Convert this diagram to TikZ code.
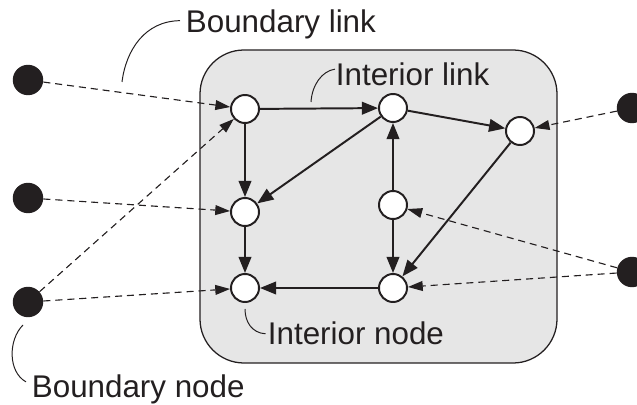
\documentclass[tikz,border=0pt]{standalone}
\usepackage{fontspec}
\setmainfont{Liberation Sans}
\usetikzlibrary{arrows.meta}
\definecolor{ink}{HTML}{231F20}
\definecolor{pane}{HTML}{E6E6E6}

\begin{document}
\begin{tikzpicture}[x=0.025cm, y=-0.025cm,
		inner/.style={circle, draw=ink, fill=white, line width=1.4pt, minimum size=0.7cm, inner sep=0pt},
		outer/.style={circle, fill=ink, minimum size=0.76cm, inner sep=0pt},
		link/.style={draw=ink, line width=1.4pt, -{Triangle[length=11.5pt,width=9pt]}},
		blink/.style={draw=ink, line width=0.8pt, dash pattern=on 5pt off 3.5pt, -{Triangle[length=10.5pt,width=7pt]}},
		lead/.style={draw=ink, line width=0.7pt},
		lbl/.style={anchor=base west, inner xsep=4pt, inner ysep=0pt, text=ink, font=\fontsize{22.3}{26}\selectfont}]
			\useasboundingbox (0,0) rectangle (637,405);
			\draw [draw=ink, fill=pane, line width=0.9pt, rounded corners=1.1cm] (200,50) rectangle (557,363);
			\node [inner] (a) at (245,109) {};
			\node [inner] (b) at (245,212) {};
			\node [inner] (c) at (245,288) {};
			\node [inner] (d) at (393,108) {};
			\node [inner] (e) at (520,131) {};
			\node [inner] (f) at (393,205) {};
			\node [inner] (g) at (393,288) {};
			\node [outer] (l1) at (28,80) {};
			\node [outer] (l2) at (28,198) {};
			\node [outer] (l3) at (28,302) {};
			\node [outer] (r1) at (632,108) {};
			\node [outer] (r2) at (632,272) {};
			\draw [link] (a) -- (d);
			\draw [link] (a) -- (b);
			\draw [link] (d) -- (b);
			\draw [link] (d) -- (e);
			\draw [link] (f) -- (d);
			\draw [link] (f) -- (g);
			\draw [link] (e) -- (g);
			\draw [link] (g) -- (c);
			\draw [link] (b) -- (c);
			\draw [blink] (l1) -- (a);
			\draw [blink] (l2) -- (b);
			\draw [blink] (l3) -- (c);
			\draw [blink] (l3) -- (a);
			\draw [blink] (r1) -- (e);
			\draw [blink] (r2) -- (f);
			\draw [blink] (r2) -- (g);
			\node [lbl] (blabel) at (180,33) {Boundary link};
			\node [lbl] (ilabel) at (330,86) {Interior link};
			\node [lbl] (nlabel) at (262,345) {Interior node};
			\node [lbl] (bnlabel) at (26,397) {Boundary node};
			\coordinate (blfoot) at (122,82);
			\coordinate (ilfoot) at (311,102);
			\coordinate (nfoot) at (245,309);
			\coordinate (bnfoot) at (23,325);
			\draw [lead] (blfoot) .. controls (126,50) and (145,21) .. ([yshift=3pt]blabel.west);
			\draw [lead] (ilfoot) .. controls (312,85) and (322,71) .. ([xshift=3.5pt,yshift=4pt]ilabel.west);
			\draw [lead] (nfoot) .. controls (245,322) and (252,333) .. ([xshift=2.5pt]nlabel.west);
			\draw [lead] (bnfoot) .. controls (8,340) and (8,372) .. ([yshift=5pt]bnlabel.west);
		\end{tikzpicture}
\end{document}
